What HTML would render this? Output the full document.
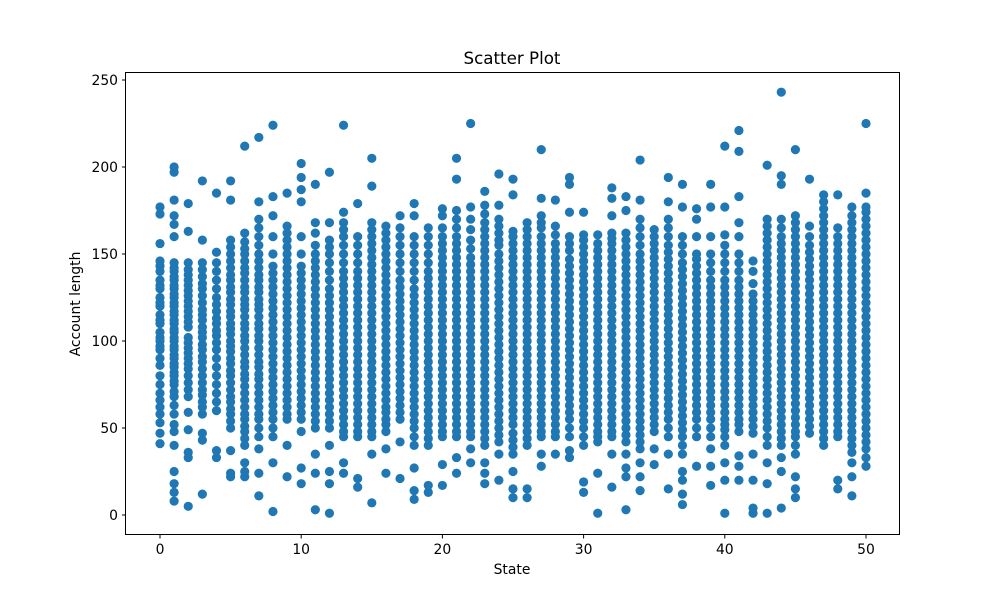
<!DOCTYPE html>
<html><head><meta charset="utf-8"><style>
html,body{margin:0;padding:0;background:#fff;}
svg{display:block;font-family:"DejaVu Sans","Liberation Sans",sans-serif;}
</style></head><body>
<svg id="chart" width="1000" height="600" viewBox="0 0 1000 600" xmlns="http://www.w3.org/2000/svg">
<rect width="1000" height="600" fill="#fff"/>
<g id="points"></g>
<rect x="125.5" y="72.5" width="774" height="462" fill="none" stroke="#000" stroke-width="1"/>
<g id="xticks"></g>
<g id="yticks"></g>
<text x="512" y="64" text-anchor="middle" font-size="16.7">Scatter Plot</text>
<text x="512" y="574" text-anchor="middle" font-size="13.9">State</text>
<text transform="translate(80,304) rotate(-90)" text-anchor="middle" font-size="13.9">Account length</text>
</svg>
<script>
const xTicks = [0,10,20,30,40,50];
const yTicks = [0,50,100,150,200,250];
const stateValues = [
[41,47,53,58,62,75,86,95,100,105,110,115,120,125,130,135,140,146,156,173,177],
[8,13,18,25,40,48,58,68,75,80,85,90,95,100,105,110,115,120,125,130,135,140,145,160,167,172,181,197,200],
[5,33,36,49,59,68,76,84,90,96,102,108,114,120,126,132,138,145,163,179],
[12,43,58,65,72,80,88,95,102,108,115,122,130,137,145,158,192],
[33,37,60,75,85,95,103,110,117,125,135,145,151,185],
[22,24,37,50,58,65,72,80,87,94,100,107,114,121,128,135,142,150,158,181,192],
[22,25,30,40,48,55,62,70,78,85,92,100,107,114,121,128,135,142,150,157,162,212],
[11,24,38,45,55,62,70,78,85,92,100,107,114,121,128,135,142,150,160,170,180,217],
[2,30,45,55,63,71,79,87,95,103,111,119,127,135,143,160,172,183,224],
[22,40,55,62,70,78,86,94,102,110,118,126,134,142,150,158,166,185],
[18,27,48,55,63,71,79,87,95,103,111,119,127,135,143,160,180,187,194,202],
[3,24,35,50,58,66,74,82,90,98,106,114,122,130,138,146,155,162,168,190],
[1,18,25,40,50,58,66,74,82,90,98,106,114,122,130,140,150,158,168,197],
[24,30,45,52,60,68,76,84,92,100,108,116,124,132,140,150,160,168,174,224],
[16,21,45,52,60,68,76,84,92,100,108,116,124,132,140,150,160,179],
[7,35,45,52,60,68,76,84,92,100,108,116,124,132,140,148,156,164,168,189,205],
[24,38,48,55,62,70,78,86,94,102,110,118,126,134,142,150,158,166],
[21,42,55,63,71,79,87,95,103,111,119,127,135,145,155,165,172],
[9,14,27,40,50,58,66,74,82,90,98,106,114,122,130,140,150,160,172,179],
[13,17,40,48,56,64,72,80,88,96,104,112,120,128,136,145,155,165],
[17,29,45,52,60,68,76,84,92,100,108,116,124,132,140,148,156,165,172,176],
[24,33,45,52,60,68,76,84,92,100,108,116,124,132,140,148,156,165,175,193,205],
[30,38,45,52,60,68,76,84,92,100,108,116,124,132,140,148,158,170,177,225],
[18,24,30,40,48,56,64,72,80,88,96,104,112,120,128,136,144,152,160,168,178,186],
[20,35,42,50,58,66,74,82,90,98,106,114,122,130,138,146,155,162,170,178,196],
[10,15,25,35,43,52,60,68,76,84,92,100,108,116,124,132,140,148,156,163,184,193],
[10,15,40,48,56,64,72,80,88,96,104,112,120,128,136,144,152,160,168],
[28,35,45,52,60,68,76,84,92,100,108,116,124,132,140,148,156,165,172,182,210],
[35,45,52,60,68,76,84,92,100,108,116,124,132,140,148,156,166,181],
[33,37,45,55,63,71,79,87,95,103,111,119,127,135,143,152,160,174,190,194],
[13,19,40,50,58,66,74,82,90,98,106,114,122,130,138,146,154,161,174],
[1,24,42,48,56,64,72,80,88,96,104,112,120,128,136,144,152,161],
[16,35,45,52,60,68,76,84,92,100,108,116,124,132,140,148,156,162,172,182,188],
[3,22,27,35,42,50,58,66,74,82,90,98,106,114,122,130,138,146,154,162,175,183],
[14,22,30,38,46,54,62,70,78,86,94,102,110,118,126,134,142,150,160,170,181,204],
[29,38,48,56,64,72,80,88,96,104,112,120,128,136,144,152,160,164],
[15,35,45,55,63,71,79,87,95,103,111,119,127,135,143,151,160,170,180,194],
[6,12,20,25,35,45,53,61,69,77,85,93,101,109,117,125,133,141,150,160,177,190],
[28,45,55,63,71,79,87,95,103,111,119,127,135,143,150,170,176],
[17,28,38,45,55,63,71,79,87,95,103,111,119,127,135,145,160,177,190],
[1,20,30,40,49,55,63,71,79,87,95,103,111,119,127,135,145,155,161,177,212],
[20,28,34,48,55,63,71,79,87,95,103,111,119,127,135,145,160,168,183,209,221],
[1,4,20,35,47,55,63,71,79,87,95,103,111,119,127,140,146],
[1,18,30,40,50,58,66,74,82,90,98,106,114,122,130,138,146,154,162,170,201],
[4,25,33,40,48,56,64,72,80,88,96,104,112,120,128,136,144,152,160,170,190,195,243],
[10,15,22,35,45,52,60,68,76,84,92,100,108,116,124,132,140,148,156,164,172,210],
[47,55,63,71,79,87,95,103,111,119,127,135,143,151,160,166,193],
[40,48,56,64,72,80,88,96,104,112,120,128,136,144,152,160,168,176,184],
[15,20,45,52,60,68,76,84,92,100,108,116,124,132,140,148,156,165,184],
[11,22,30,36,44,52,60,68,76,84,92,100,108,116,124,132,140,148,156,164,172,177],
[28,33,42,50,58,66,74,82,90,98,106,114,122,130,138,146,154,162,170,177,185,225]
];
const stateExtraValues = [
[66,70,80,90,97,102,112,122,132,143],
[52,63,71,77,82,87,92,97,102,107,112,117,122,127,132,137,142],
[72,80,87,93,99,111,117,123,129,135,141],
[47,62,69,76,84,91,98,105,112,118,126,133,141],
[65,70,80,90,99,106,113,121,130,140],
[54,61,68,76,83,90,97,104,110,117,124,131,138,146,154],
[44,51,58,66,74,81,88,96,103,110,118,124,131,139,146,153],
[50,58,66,74,81,88,96,103,110,118,124,131,138,146,155,165],
[50,59,67,75,83,91,99,107,115,123,131,139,150],
[58,66,74,82,90,98,106,114,122,130,138,146,154,162],
[59,67,75,83,91,99,107,115,123,131,139,150],
[54,62,70,78,86,94,102,110,118,126,134,142,150],
[54,62,70,78,86,94,102,110,118,126,135,145,154],
[48,56,64,72,80,88,96,104,112,120,128,136,145,155,164],
[48,56,64,72,80,88,96,104,112,120,128,136,145,155],
[48,56,64,72,80,88,96,104,112,120,128,136,144,152,160],
[52,59,66,74,82,90,98,106,114,122,130,138,146,154,162],
[59,67,75,83,91,99,107,115,123,131,140,150,160],
[45,54,62,70,78,86,94,102,110,118,126,135,145,155],
[44,52,60,68,76,84,92,100,108,116,124,132,140,150,160],
[48,56,64,72,80,88,96,104,112,120,128,136,144,152,160],
[48,56,64,72,80,88,96,104,112,120,128,136,144,152,160,170],
[48,56,64,72,80,88,96,104,112,120,128,136,144,153,164],
[44,52,60,68,76,84,92,100,108,116,124,132,140,148,156,164,173],
[46,54,62,70,78,86,94,102,110,118,126,134,142,150,158,166],
[39,47,56,64,72,80,88,96,104,112,120,128,136,144,152,160],
[44,52,60,68,76,84,92,100,108,116,124,132,140,148,156,164],
[48,56,64,72,80,88,96,104,112,120,128,136,144,152,160,168],
[48,56,64,72,80,88,96,104,112,120,128,136,144,152,161],
[50,59,67,75,83,91,99,107,115,123,131,139,147,156],
[45,54,62,70,78,86,94,102,110,118,126,134,142,150,158],
[45,52,60,68,76,84,92,100,108,116,124,132,140,148,156],
[48,56,64,72,80,88,96,104,112,120,128,136,144,152,159],
[46,54,62,70,78,86,94,102,110,118,126,134,142,150,158],
[42,50,58,66,74,82,90,98,106,114,122,130,138,146,155,165],
[52,60,68,76,84,92,100,108,116,124,132,140,148,156],
[50,59,67,75,83,91,99,107,115,123,131,139,147,155,165],
[40,49,57,65,73,81,89,97,105,113,121,129,137,145,155],
[50,59,67,75,83,91,99,107,115,123,131,139,147,160],
[50,59,67,75,83,91,99,107,115,123,131,140,150],
[45,52,59,67,75,83,91,99,107,115,123,131,140,150],
[52,59,67,75,83,91,99,107,115,123,131,140,150],
[51,59,67,75,83,91,99,107,115,123,133],
[45,54,62,70,78,86,94,102,110,118,126,134,142,150,158,166],
[44,52,60,68,76,84,92,100,108,116,124,132,140,148,156,165],
[40,48,56,64,72,80,88,96,104,112,120,128,136,144,152,160,168],
[51,59,67,75,83,91,99,107,115,123,131,139,147,155],
[44,52,60,68,76,84,92,100,108,116,124,132,140,148,156,164,172,180],
[48,56,64,72,80,88,96,104,112,120,128,136,144,152,160],
[40,48,56,64,72,80,88,96,104,112,120,128,136,144,152,160,168],
[38,46,54,62,70,78,86,94,102,110,118,126,134,142,150,158,166,174]
];
const NS = "http://www.w3.org/2000/svg";
function xScale(v){ return 160 + v * (866 - 160) / 50; }
function yScale(v){ return 515 - v * (515 - 80) / 250; }
const pg = document.getElementById('points');
function drawSet(set){
  set.forEach(function(vals, s){
    vals.forEach(function(v){
      const c = document.createElementNS(NS, 'circle');
      c.setAttribute('cx', xScale(s));
      c.setAttribute('cy', yScale(v));
      c.setAttribute('r', 4.6);
      c.setAttribute('fill', '#1f77b4');
      
      
      pg.appendChild(c);
    });
  });
}
drawSet(stateValues);
drawSet(stateExtraValues);
const xg = document.getElementById('xticks');
xTicks.forEach(function(t){
  const x = xScale(t);
  const l = document.createElementNS(NS, 'line');
  l.setAttribute('x1', x); l.setAttribute('x2', x);
  l.setAttribute('y1', 535); l.setAttribute('y2', 538.5);
  l.setAttribute('stroke', '#000');
  
  
  xg.appendChild(l);
  const tx = document.createElementNS(NS, 'text');
  tx.setAttribute('x', x); tx.setAttribute('y', 554);
  tx.setAttribute('text-anchor', 'middle');
  tx.setAttribute('font-size', '13.9');
  tx.textContent = t;
  
  
  xg.appendChild(tx);
});
const yg = document.getElementById('yticks');
yTicks.forEach(function(t){
  const y = yScale(t);
  const l = document.createElementNS(NS, 'line');
  l.setAttribute('x1', 122); l.setAttribute('x2', 125.5);
  l.setAttribute('y1', y); l.setAttribute('y2', y);
  l.setAttribute('stroke', '#000');
  
  
  yg.appendChild(l);
  const tx = document.createElementNS(NS, 'text');
  tx.setAttribute('x', 118); tx.setAttribute('y', y + 5);
  tx.setAttribute('text-anchor', 'end');
  tx.setAttribute('font-size', '13.9');
  tx.textContent = t;
  
  
  yg.appendChild(tx);
});
</script>
</body></html>
